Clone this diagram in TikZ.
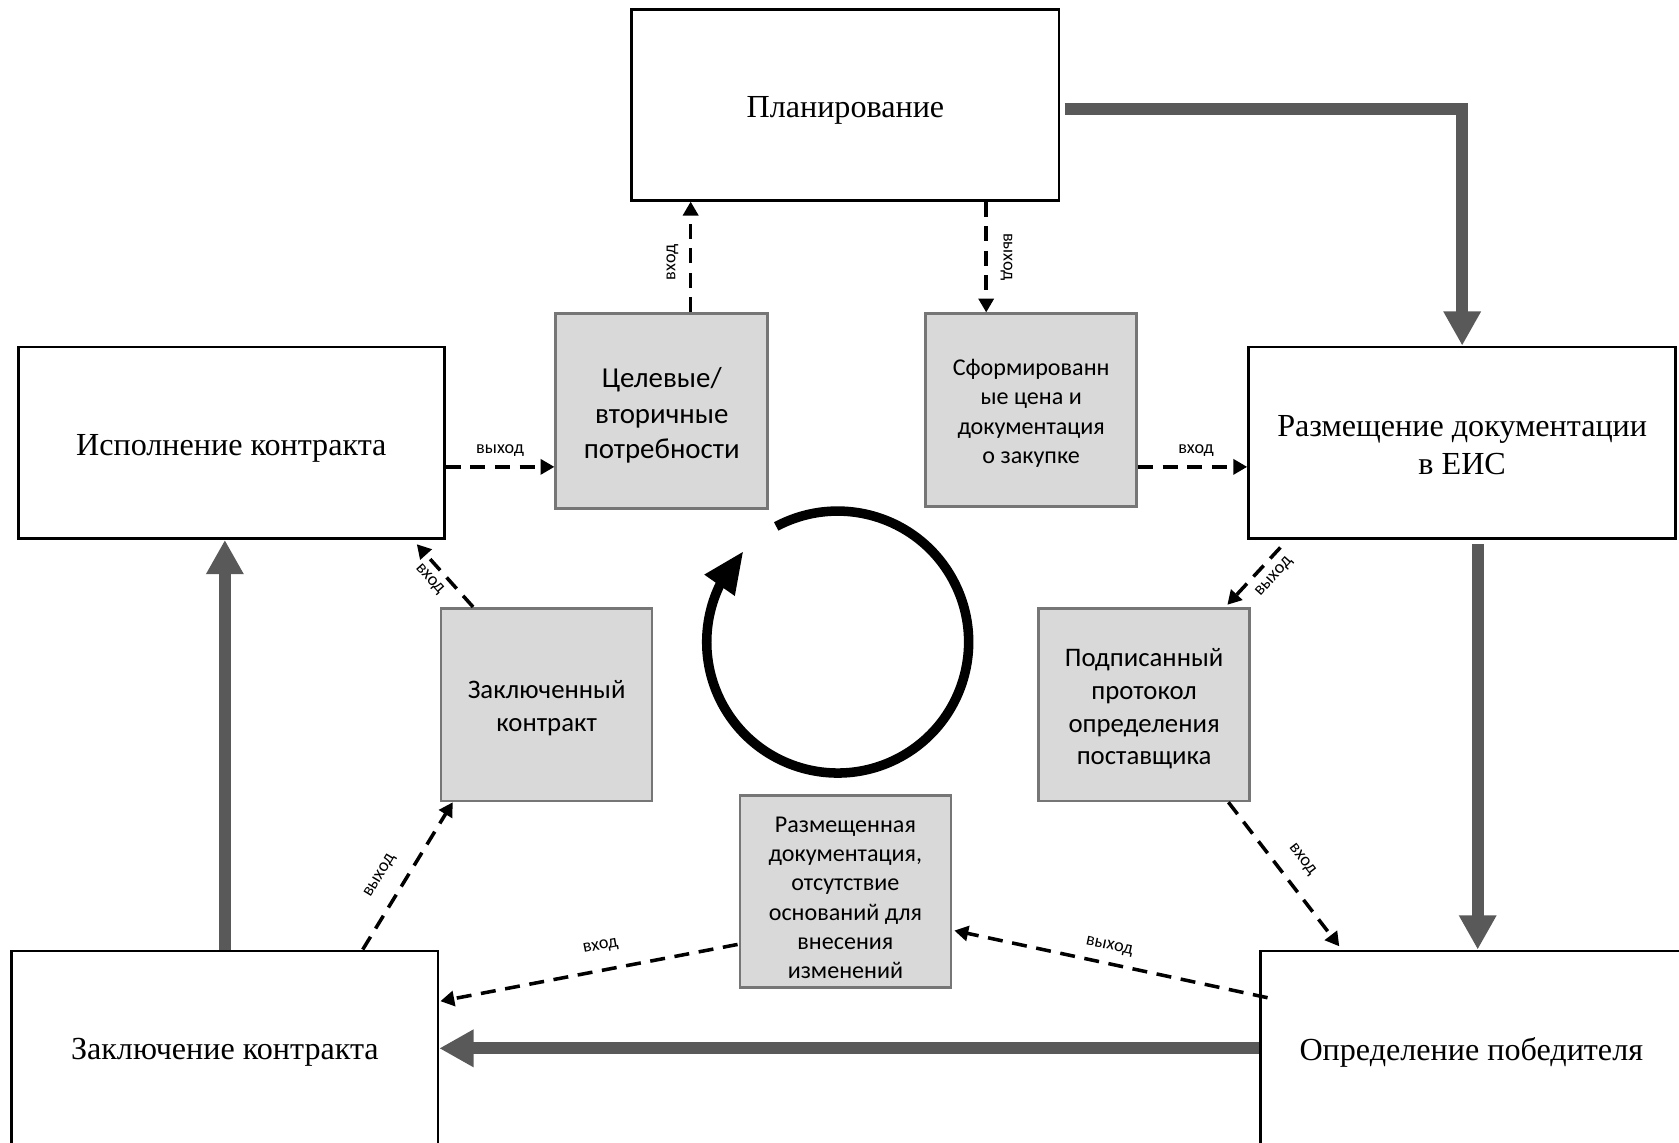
\documentclass[tikz,border=0pt]{standalone}
\usepackage{fontspec}
\setmainfont{Liberation Serif}
\newfontfamily\calfont{Carlito}
\usetikzlibrary{arrows.meta,calc,bending}
\definecolor{thickgray}{RGB}{89,89,89}
\definecolor{boxgray}{RGB}{217,217,217}
\definecolor{boxedge}{RGB}{118,118,118}
\begin{document}
\begin{tikzpicture}[x=0.5pt,y=-0.5pt,
  mainbox/.style={draw=black,line width=1.25pt,fill=white,inner sep=0pt},
  maintext/.style={align=center,inner sep=0pt,font=\fontsize{15}{18}\selectfont},
  graybox/.style={draw=boxedge,line width=1.2pt,fill=boxgray,inner sep=0pt,minimum width=98.5pt,minimum height=90pt},
  graytext/.style={align=center,inner sep=0pt},
  flow/.style={draw=thickgray,line width=5.5pt,-{Triangle[width=16.5pt,length=16pt]}},
  dasharrow/.style={draw=black,line width=1.65pt,dash pattern=on 7pt off 4.5pt,-{Triangle[width=7pt,length=6.5pt]}},
  lbl/.style={font=\calfont\fontsize{8.5}{10}\selectfont,inner sep=0pt}]
\useasboundingbox (0,0) rectangle (1568,1067);

% main boxes
\node[mainbox,minimum width=199.5pt,minimum height=89pt] (plan) at (789.5,98) {};
\node[maintext] (plant) at ($(plan.center)+(0,5)$) {Планирование};
\node[mainbox,minimum width=199pt,minimum height=89.5pt] (isp) at (216,413.5) {};
\node[maintext] (ispt) at ($(isp.center)+(0,5)$) {Исполнение контракта};
\node[mainbox,minimum width=199.5pt,minimum height=89.5pt] (razm) at (1365.5,413.5) {};
\node[maintext] (razmt) at ($(razm.center)+(0,2)$) {Размещение документации\\в ЕИС};
\node[mainbox,minimum width=199pt,minimum height=91pt] (zakl) at (210,979) {};
\node[maintext] (zaklt) at ($(zakl.center)+(0,4)$) {Заключение контракта};
\node[mainbox,minimum width=197pt,minimum height=91pt] (opr) at (1374,979) {};
\node[maintext] (oprt) at ($(opr.center)+(0,4)$) {Определение победителя};

% gray boxes
\node[graybox,minimum width=99pt,minimum height=91pt] (cel) at (618,384) {};
\node[graytext,font=\calfont\fontsize{13.5}{16.5}\selectfont] (celt) at ($(cel.center)+(0,4)$) {Целевые/\\вторичные\\потребности};
\node[graybox] (sform) at (963,383) {};
\node[graytext,font=\calfont\fontsize{11.25}{13.75}\selectfont] (sformt) at ($(sform.center)+(0,3)$) {Сформированн\\ые цена и\\документация\\о закупке};
\node[graybox] (zkk) at (510.5,658) {};
\node[graytext,font=\calfont\fontsize{12.5}{15.5}\selectfont] (zkkt) at ($(zkk.center)+(0,3)$) {Заключенный\\контракт};
\node[graybox] (podp) at (1068.5,658) {};
\node[graytext,font=\calfont\fontsize{12.5}{15.3}\selectfont] (podpt) at ($(podp.center)+(0,4)$) {Подписанный\\протокол\\определения\\поставщика};
\node[graybox,minimum height=89.5pt] (razmd) at (789.5,832.5) {};
\node[graytext,font=\calfont\fontsize{11.25}{13.7}\selectfont] (razmdt) at ($(razmd.center)+(0,6)$) {Размещенная\\документация,\\отсутствие\\оснований для\\внесения\\изменений};

% thick flow arrows
\coordinate (a1) at ($(plan.east)+(4,4)$);
\draw[flow] (a1) -| (razm.north);
\coordinate (b1) at ($(razm.south)+(14.5,4)$);
\draw[flow] (b1) -- (b1 |- opr.north);
\draw[flow] (opr.west) -- (zakl.east);
\draw[flow] (zakl.north) -- (zakl.north |- isp.south);

% dashed arrows
\coordinate (d1) at ($(cel.north)+(27,0)$);
\draw[dasharrow] (d1) -- (d1 |- plan.south);
\coordinate (d2) at ($(sform.north)+(-42,0)$);
\draw[dasharrow] (d2 |- plan.south) -- (d2);
\coordinate (d3) at ($(isp.east)+(0,22.5)$);
\draw[dasharrow] (d3) -- (d3 -| cel.west);
\coordinate (d4) at ($(sform.east)+(0,53)$);
\draw[dasharrow] (d4) -- (d4 -| razm.west);
\draw[dasharrow] ($(razm.south west)+(31,7)$) -- ($(podp.north east)+(-22,-2)$);
\draw[dasharrow] ($(podp.south east)+(-21,0)$) -- ($(opr.north west)+(75,-3)$);
\draw[dasharrow] ($(opr.north west)+(8,45)$) -- ($(razmd.east)+(2,36.5)$);
\draw[dasharrow] ($(razmd.west)+(-1,49.5)$) -- ($(zakl.east)+(1,-44)$);
\draw[dasharrow] ($(zakl.north west)+(329,0)$) -- ($(zkk.south west)+(12,0)$);
\draw[dasharrow] ($(zkk.north west)+(31,0)$) -- ($(isp.south east)+(-27,4)$);

% labels
\node[lbl,rotate=90] (l1) at (628,245) {вход};
\node[lbl,rotate=-90] (l2) at (940,240) {выход};
\node[lbl] (l3) at (467,421) {выход};
\node[lbl] (l4) at (1117,421) {вход};
\node[lbl,rotate=48] (l5) at (1190,539) {выход};
\node[lbl,rotate=-52] (l6) at (1216,803) {вход};
\node[lbl,rotate=-12] (l7) at (1036,884) {выход};
\node[lbl,rotate=11] (l8) at (561,884) {вход};
\node[lbl,rotate=59] (l9) at (355,818) {выход};
\node[lbl,rotate=-48] (l10) at (401,541) {вход};

% cycle arrow
\coordinate (cc) at (782.3,599.6);
\draw[line width=4.45pt,-{Triangle[length=19.5pt,width=16pt]}] (cc) ++(-118:122.3) arc[start angle=-118,end angle=224,radius=122.3];
\end{tikzpicture}
\end{document}
